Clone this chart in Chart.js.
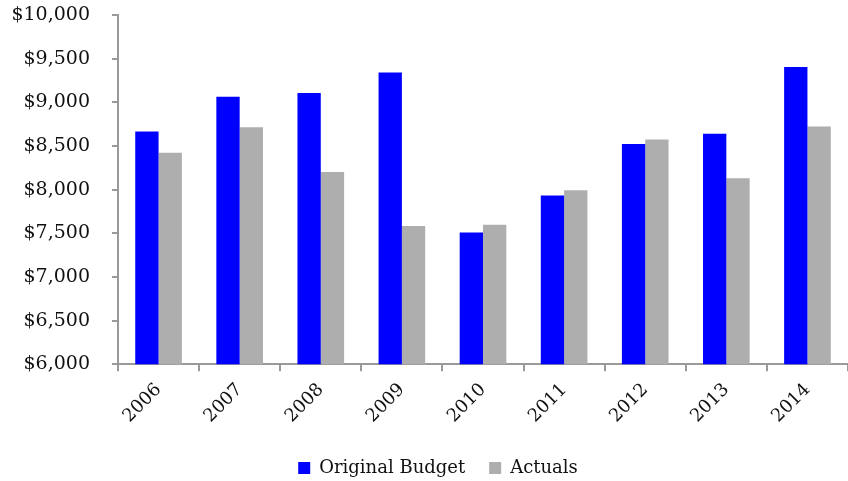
<!DOCTYPE html>
<html>
<head>
<meta charset="utf-8">
<script src="https://cdn.jsdelivr.net/npm/chart.js@4/dist/chart.umd.min.js"></script>
<style>
  html, body { margin: 0; padding: 0; background: #fff; }
  #wrap { width: 848px; height: 481px; }
</style>
</head>
<body>
<div id="wrap"><canvas id="budgetChart"></canvas></div>
<script>
// Budget vs actuals
var years = ['2006', '2007', '2008', '2009', '2010', '2011', '2012', '2013', '2014'];
var originalBudget = [8667, 9064, 9106, 9343, 7510, 7934, 8522, 8640, 9404];
var actuals = [8422, 8716, 8201, 7585, 7597, 7994, 8575, 8132, 8724];
var yMin = 6000, yMax = 10000, yStep = 500;

var serif = '"DejaVu Serif", "Liberation Serif", serif';
var axisGrey = '#9a9a9a';

// legend in the original sits a bit right of the canvas centre
var legendNudge = {
    id: 'legendNudge',
    afterLayout: function(chart) {
        if (!chart.legend) return;
        chart.legend.left += 14;
        chart.legend.right += 14;
    }
};

new Chart(document.getElementById('budgetChart'), {
    type: 'bar',
    data: {
        labels: years,
        datasets: [{
            label: 'Original Budget',
            data: originalBudget,
            backgroundColor: '#0000FF'
        }, {
            label: 'Actuals',
            data: actuals,
            backgroundColor: '#AEAEAE'
        }]
    },
    plugins: [legendNudge],
    options: {
        responsive: true,
        maintainAspectRatio: false,
        animation: false,
        datasets: { bar: { categoryPercentage: 0.575, barPercentage: 1 } },
        layout: { padding: { top: 0, right: 0, left: 0, bottom: -6 } },
        plugins: {
            tooltip: { enabled: false },
            legend: {
                position: 'bottom',
                labels: {
                    font: { family: serif, size: 18 },
                    color: '#111',
                    boxWidth: 12,
                    boxHeight: 12,
                    padding: 24
                }
            }
        },
        scales: {
            x: {
                grid: { drawOnChartArea: false, drawTicks: true, tickLength: 7, color: axisGrey, lineWidth: 2 },
                border: { color: axisGrey, width: 2 },
                ticks: {
                    font: { family: serif, size: 18 },
                    color: '#111',
                    minRotation: 45,
                    maxRotation: 45,
                    padding: 8
                }
            },
            y: {
                min: yMin,
                max: yMax,
                // fixed axis width, and keep the tick padding from pushing the plot down
                afterFit: function(scale) {
                    scale.width = 118;
                    scale.paddingTop = 15;
                    scale.paddingBottom = 12;
                },
                grid: { drawOnChartArea: false, drawTicks: true, tickLength: 6, color: axisGrey, lineWidth: 2 },
                border: { color: axisGrey, width: 2 },
                ticks: {
                    stepSize: yStep,
                    font: { family: serif, size: 19 },
                    color: '#111',
                    padding: 22,
                    callback: function(v) { return '$' + v.toLocaleString('en-US'); }
                }
            }
        }
    }
});
</script>
</body>
</html>
